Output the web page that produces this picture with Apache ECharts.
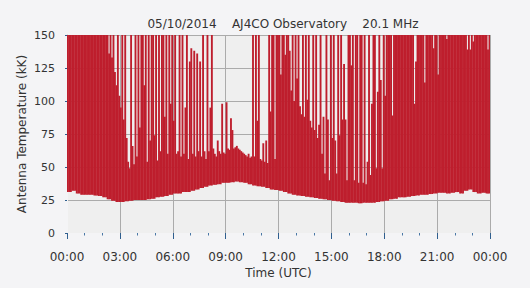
<!DOCTYPE html>
<html>
<head>
<meta charset="utf-8">
<script src="https://cdn.jsdelivr.net/npm/echarts@6/dist/echarts.min.js"></script>
<style>
    html, body {margin: 0; padding: 0; background: #f4f4f6;}
    .chart__container {width: 530px; height: 288px;}
</style>
</head>
<body>
<div class="chart__container"></div>
<script>
// 5-minute columns, hours 00:00 - 24:00, top of the trace (kK), 150 = clipped
const peakK = [
    150, 150, 150, 150, 150, 150, 150, 150, 150, 150, 150, 150,
    150, 150, 150, 150, 150, 150, 150, 150, 150, 150, 150, 150,
    150, 150, 150, 150, 136, 150, 133, 150, 122, 112, 150, 104,
    95, 150, 86, 150, 72, 54, 49, 150, 66, 52, 150, 58,
    150, 80, 150, 150, 112, 150, 54, 150, 70, 150, 150, 74,
    150, 55, 150, 62, 150, 150, 88, 150, 60, 150, 98, 150,
    85, 150, 60, 62, 150, 58, 150, 60, 95, 150, 56, 130,
    140, 60, 138, 58, 136, 62, 130, 58, 150, 62, 56, 150,
    62, 95, 150, 64, 60, 58, 70, 62, 60, 98, 61, 60,
    99, 64, 63, 87, 78, 64, 65, 66, 64, 63, 62, 61,
    60, 59, 58, 60, 57, 58, 150, 58, 150, 85, 150, 56,
    55, 68, 54, 70, 53, 150, 92, 150, 150, 56, 150, 150,
    150, 120, 150, 150, 135, 150, 150, 138, 108, 150, 100, 150,
    117, 150, 96, 90, 150, 88, 150, 101, 150, 85, 80, 150,
    78, 150, 72, 82, 150, 60, 88, 45, 150, 86, 40, 150,
    72, 150, 70, 45, 150, 74, 150, 86, 128, 86, 40, 150,
    150, 127, 150, 40, 150, 150, 38, 150, 150, 38, 150, 37,
    54, 150, 44, 98, 150, 150, 49, 107, 150, 116, 49, 150,
    104, 150, 150, 150, 150, 89, 150, 150, 150, 150, 150, 150,
    150, 150, 150, 150, 150, 150, 150, 150, 98, 130, 150, 150,
    150, 150, 150, 114, 150, 150, 150, 150, 150, 140, 150, 150,
    120, 150, 150, 150, 150, 150, 147, 150, 150, 150, 150, 150,
    150, 150, 150, 150, 150, 150, 150, 150, 139, 150, 139, 150,
    145, 150, 150, 150, 150, 150, 150, 150, 150, 150, 139, 150
];

// 15-minute steps, bottom of the trace (kK)
const floorK = [
    31, 32, 30, 29, 29, 29, 28.5, 28, 27, 25.5, 24.5, 23.5,
    23.5, 24, 24.5, 25, 25, 25, 25.5, 26, 27, 27.5, 28, 29,
    30, 30, 31, 31, 32, 33, 34, 35, 36, 36.5, 37, 38,
    38, 38.5, 39, 38.5, 38, 37, 36, 35.5, 35, 34, 33, 32.5,
    32, 31, 30, 29, 28.5, 28, 27.5, 27, 26.5, 26, 25.5, 25,
    24.5, 24, 23.5, 23, 23, 23, 22.5, 23, 23, 23, 23.5, 24,
    24.5, 25.5, 26, 27, 27, 27.5, 28, 28.5, 29, 29, 29.5, 30,
    30.5, 30.5, 30, 30.5, 31, 30, 32, 33, 31, 30, 30.5, 30
];

const timeLabels = ['00:00', '03:00', '06:00', '09:00', '12:00', '15:00', '18:00', '21:00', '00:00'];

const stepH = 24 / peakK.length;
const floorStep = peakK.length / floorK.length;

let main = document.querySelector('.chart__container');
let chart = echarts.init(main, null, {renderer: 'svg'});

let font = 'DejaVu Sans';
let pageBg = '#f4f4f6';
let traceData = peakK.map((p, i) => [i * stepH, floorK[Math.floor(i / floorStep)], p]);

let option = {
    backgroundColor: pageBg,
    animation: false,
    title: {
        text: '05/10/2014    AJ4CO Observatory    20.1 MHz',
        left: 278,
        top: 13,
        textAlign: 'center',
        textStyle: {
            fontFamily: font,
            fontSize: 12,
            fontWeight: 'normal',
            color: '#333333'
        }
    },
    grid: {
        left: 67,
        right: 40,
        top: 35,
        bottom: 55,
        show: true,
        backgroundColor: '#efefef',
        borderWidth: 0
    },
    xAxis: [{
        type: 'value',
        min: 0,
        max: 24,
        interval: 3,
        name: 'Time (UTC)',
        nameLocation: 'middle',
        nameGap: 34,
        nameMoveOverlap: false,
        nameTextStyle: {fontFamily: font, fontSize: 12, color: '#333333'},
        axisLine: {show: true, lineStyle: {color: '#a0a0a0'}},
        axisTick: {show: false},
        axisLabel: {show: false},
        splitLine: {show: true, lineStyle: {color: '#ababab', width: 1}}
    }, {
        // tick row, drawn a little below the plot like the original
        type: 'value',
        min: 0,
        max: 24,
        interval: 3,
        position: 'bottom',
        offset: 4,
        axisLine: {show: true, lineStyle: {color: pageBg, width: 1}},
        axisTick: {show: true, length: 6, lineStyle: {color: '#2f5f8f', width: 1, opacity: 1}},
        minorTick: {show: true, splitNumber: 3, length: 2.5, lineStyle: {color: '#4a78a6', width: 1, opacity: 1}},
        splitLine: {show: false},
        axisLabel: {
            margin: 14,
            fontFamily: font,
            fontSize: 12,
            color: '#333333',
            formatter: (v) => timeLabels[Math.round(v / 3)]
        }
    }],
    yAxis: [{
        type: 'value',
        min: 0,
        max: 150,
        interval: 25,
        name: 'Antenna Temperature (kK)',
        nameLocation: 'middle',
        nameGap: 39,
        nameMoveOverlap: false,
        nameTextStyle: {fontFamily: font, fontSize: 12, color: '#333333'},
        axisLine: {show: true, lineStyle: {color: '#a0a0a0'}},
        axisTick: {show: false},
        axisLabel: {margin: 12, fontFamily: font, fontSize: 11, color: '#333333'},
        splitLine: {show: true, lineStyle: {color: '#ababab', width: 1}}
    }, {
        type: 'value',
        min: 0,
        max: 150,
        interval: 25,
        position: 'left',
        offset: 4,
        axisLine: {show: true, lineStyle: {color: pageBg, width: 1}},
        axisTick: {show: true, length: 2, lineStyle: {color: '#2f5f8f', width: 1, opacity: 1}},
        axisLabel: {show: false},
        splitLine: {show: false}
    }],
    series: [{
        type: 'custom',
        name: 'trace',
        xAxisIndex: 0,
        yAxisIndex: 0,
        clip: true,
        encode: {x: [0], y: [1, 2]},
        data: traceData,
        renderItem: (params, api) => {
            let t = api.value(0);
            let lo = api.coord([t, api.value(1)]);
            let hi = api.coord([t + stepH, api.value(2)]);
            return {
                type: 'rect',
                shape: {
                    x: lo[0],
                    y: hi[1],
                    width: hi[0] - lo[0] + 0.4,
                    height: lo[1] - hi[1]
                },
                style: {fill: '#be1e2d'}
            };
        }
    }]
};

chart.setOption(option);

window.addEventListener('resize', chart.resize);
</script>
</body>
</html>
